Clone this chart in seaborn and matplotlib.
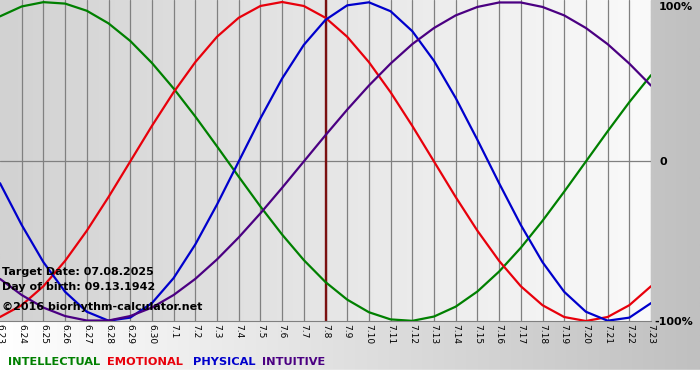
import numpy as np
import pandas as pd
import matplotlib
matplotlib.use("Agg")
import matplotlib.pyplot as plt
from matplotlib.colors import LinearSegmentedColormap
import seaborn as sns

# Tagesbeschriftungen 6.23 .. 7.23
days = ["6.23", "6.24", "6.25", "6.26", "6.27", "6.28", "6.29", "6.30",
        "7.1", "7.2", "7.3", "7.4", "7.5", "7.6", "7.7", "7.8", "7.9", "7.10",
        "7.11", "7.12", "7.13", "7.14", "7.15", "7.16", "7.17", "7.18", "7.19",
        "7.20", "7.21", "7.22", "7.23"]

intellectual = [0.910, 0.972, 0.999, 0.990, 0.945, 0.866, 0.756, 0.618, 0.458, 0.282,
                0.095, -0.095, -0.282, -0.458, -0.618, -0.756, -0.866, -0.945, -0.990,
                -0.999, -0.972, -0.910, -0.815, -0.690, -0.541, -0.372, -0.189, 0.0,
                0.189, 0.372, 0.541]
emotional = [-0.975, -0.901, -0.782, -0.623, -0.434, -0.223, 0.0, 0.223, 0.434, 0.623,
             0.782, 0.901, 0.975, 1.0, 0.975, 0.901, 0.782, 0.623, 0.434, 0.223, 0.0,
             -0.223, -0.434, -0.623, -0.782, -0.901, -0.975, -1.0, -0.975, -0.901, -0.782]
physical = [-0.136, -0.398, -0.631, -0.817, -0.942, -0.998, -0.979, -0.888, -0.731, -0.520,
            -0.270, 0.0, 0.270, 0.520, 0.731, 0.888, 0.979, 0.998, 0.942, 0.817, 0.631,
            0.398, 0.136, -0.136, -0.398, -0.631, -0.817, -0.942, -0.998, -0.979, -0.888]
intuitive = [-0.736, -0.837, -0.916, -0.969, -0.997, -0.997, -0.969, -0.916, -0.837, -0.736,
             -0.614, -0.476, -0.325, -0.165, 0.0, 0.165, 0.325, 0.476, 0.614, 0.736, 0.837,
             0.916, 0.969, 0.997, 0.997, 0.969, 0.916, 0.837, 0.736, 0.614, 0.476]

target_day = "7.8"
series_names = ["INTELLECTUAL", "EMOTIONAL", "PHYSICAL", "INTUITIVE"]
colors = ["#008000", "#e8000b", "#0000cc", "#4b0082"]
legend_x = [8, 107, 193, 262]

df = pd.DataFrame({"day": np.arange(len(days)),
                   "INTELLECTUAL": intellectual, "EMOTIONAL": emotional,
                   "PHYSICAL": physical, "INTUITIVE": intuitive})
long = df.melt(id_vars="day", var_name="cycle", value_name="value")

sns.set_style("white")
plt.rcParams["font.family"] = ["DejaVu Sans"]
plt.rcParams["text.color"] = "black"
plt.rcParams["xtick.color"] = "black"

fig = plt.figure(figsize=(7, 3.8), dpi=100)

# Hintergrund der ganzen Grafik
bg = fig.add_axes([0, 0, 1, 1], zorder=-10)
bg_cmap = LinearSegmentedColormap.from_list("bg", ["#ffffff", "#c0c0c0"])
bg.imshow(np.linspace(0, 1, 256).reshape(1, -1), cmap=bg_cmap, aspect="auto",
          extent=[0, 1, 0, 1])
bg.axhspan(0, 10 / 380, color="white")
bg.set_xlim(0, 1)
bg.set_ylim(0, 1)
bg.axis("off")

ax = fig.add_axes([0, 59 / 380, 651 / 700, 321 / 380])
top = 1.0125
plot_cmap = LinearSegmentedColormap.from_list("pl", ["#d2d2d2", "#fafafa"])
ax.imshow(np.linspace(0, 1, 256).reshape(1, -1), cmap=plot_cmap, aspect="auto",
          extent=[0, len(days) - 1, -1, top], zorder=0)

for i in range(1, len(days)):
    ax.axvline(i, color="#808080", lw=0.9, zorder=1)
ax.axhline(0, color="#808080", lw=0.9, zorder=1)
ax.axvline(days.index(target_day), color="#7a1010", lw=1.7, zorder=2)

sns.lineplot(data=long, x="day", y="value", hue="cycle", hue_order=series_names,
             palette=colors, lw=1.6, legend=False, ax=ax, zorder=3)

ax.set_xlim(0, len(days) - 1)
ax.set_ylim(-1, top)
ax.set_xticks(range(len(days)))
ax.set_xticklabels(days, rotation=270, fontsize=6.5, va="top", ha="center")
ax.tick_params(axis="x", length=0, pad=2)
ax.set_yticks([])
ax.set_xlabel("")
ax.set_ylabel("")
for s in ax.spines.values():
    s.set_visible(False)
ax.spines["bottom"].set_visible(True)
ax.spines["bottom"].set_color("#808080")

# Beschriftungen rechts
fig.text(659 / 700, 1 - 7 / 380, "100%", fontsize=8, fontweight="bold", va="center")
fig.text(659 / 700, 1 - 162 / 380, "0", fontsize=8, fontweight="bold", va="center")
fig.text(654 / 700, 1 - 322 / 380, "-100%", fontsize=8, fontweight="bold", va="center")

# Infotext
info = ["Target Date: 07.08.2025", "Day of birth: 09.13.1942",
        "\u00a92016 biorhythm-calculator.net"]
for txt, yp in zip(info, [272, 287, 307]):
    fig.text(2 / 700, 1 - yp / 380, txt, fontsize=8, fontweight="bold", va="center")

# Legende als farbiger Text
for name, c, xp in zip(series_names, colors, legend_x):
    fig.text(xp / 700, 1 - 362 / 380, name, color=c, fontsize=8.2,
             fontweight="bold", va="center")

fig.savefig("out.png", dpi=100)
